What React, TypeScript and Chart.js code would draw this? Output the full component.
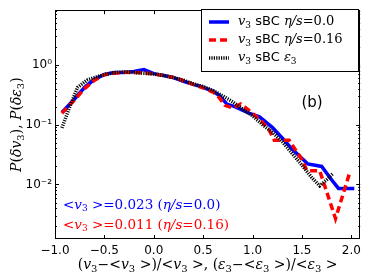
import React, { useEffect, useRef } from "react";
import { Chart, registerables } from "chart.js";

Chart.register(...registerables);

const xBlue = [-0.93, -0.8, -0.7, -0.6, -0.5, -0.4, -0.3, -0.2, -0.1, 0.0, 0.1, 0.2, 0.3, 0.4, 0.5, 0.6, 0.66, 0.74, 0.82, 0.97, 1.07, 1.2, 1.3, 1.4, 1.56, 1.7, 1.8, 1.87, 2.03];
const blueVals = [0.16, 0.27, 0.42, 0.57, 0.69, 0.74, 0.74, 0.77, 0.83, 0.71, 0.66, 0.61, 0.53, 0.47, 0.42, 0.36, 0.31, 0.22, 0.2, 0.154, 0.135, 0.09, 0.06, 0.039, 0.022, 0.02, 0.012, 0.0086, 0.0086];

const xRed = [-0.93, -0.8, -0.7, -0.6, -0.5, -0.4, -0.3, -0.2, -0.1, 0.0, 0.1, 0.2, 0.3, 0.4, 0.5, 0.6, 0.65, 0.72, 0.8, 0.88, 0.97, 1.1, 1.17, 1.22, 1.37, 1.5, 1.55, 1.68, 1.84, 1.98];
const redVals = [0.155, 0.26, 0.4, 0.55, 0.68, 0.72, 0.75, 0.74, 0.73, 0.7, 0.66, 0.61, 0.54, 0.47, 0.41, 0.35, 0.3, 0.21, 0.19, 0.22, 0.17, 0.11, 0.08, 0.055, 0.055, 0.026, 0.017, 0.017, 0.0027, 0.015];

const xBlack = [-0.93, -0.85, -0.77, -0.67, -0.55, -0.42, -0.3, -0.2, -0.1, 0.0, 0.1, 0.2, 0.3, 0.4, 0.5, 0.6, 0.7, 0.8, 0.9, 1.0, 1.1, 1.2, 1.3, 1.4, 1.5, 1.6, 1.68, 1.75, 1.81];
const blackVals = [0.088, 0.2, 0.42, 0.56, 0.65, 0.73, 0.76, 0.74, 0.72, 0.7, 0.66, 0.61, 0.55, 0.48, 0.43, 0.37, 0.3, 0.24, 0.18, 0.14, 0.1, 0.075, 0.052, 0.033, 0.021, 0.013, 0.0095, 0.012, 0.015];

const xTicks = [-1.0, -0.5, 0.0, 0.5, 1.0, 1.5, 2.0];
const yTicks = [0.01, 0.1, 1];
const yTickLabels = ["10\u207B\u00B2", "10\u207B\u00B9", "10\u2070"];

const SERIF = '"DejaVu Serif"';
const SANS = '"DejaVu Sans"';

type Run = { t: string; f: string; dy?: number };

function runsWidth(ctx: CanvasRenderingContext2D, runs: Run[]) {
  let w = 0;
  for (const r of runs) {
    ctx.font = r.f;
    w += ctx.measureText(r.t).width;
  }
  return w;
}

function drawRuns(ctx: CanvasRenderingContext2D, runs: Run[], x: number, y: number, align: "left" | "center") {
  const w = runsWidth(ctx, runs);
  let cx = align === "center" ? x - w / 2 : x;
  ctx.textAlign = "left";
  for (const r of runs) {
    ctx.font = r.f;
    ctx.fillText(r.t, cx, y + (r.dy || 0));
    cx += ctx.measureText(r.t).width;
  }
}

function mathRuns(size: number) {
  const it = `italic ${size}px ${SERIF}`;
  const rm = `${size}px ${SERIF}`;
  const sub = `${Math.round(size * 0.7)}px ${SERIF}`;
  const d = size * 0.28;
  return { it, rm, sub, d };
}

const overlayPlugin = {
  id: "overlay",
  afterDatasetsDraw(chart: any) {
    const ctx: CanvasRenderingContext2D = chart.ctx;
    const { left, right, top, bottom } = chart.chartArea;
    const xs = chart.scales.x;
    const ys = chart.scales.y;
    ctx.save();
    // frame
    ctx.strokeStyle = "#000";
    ctx.lineWidth = 1;
    ctx.strokeRect(Math.round(left) + 0.5, Math.round(top) + 0.5, Math.round(right - left) - 1, Math.round(bottom - top) - 1);
    // x ticks
    ctx.beginPath();
    for (const v of xTicks) {
      const px = Math.round(xs.getPixelForValue(v)) + 0.5;
      ctx.moveTo(px, bottom);
      ctx.lineTo(px, bottom - 4);
      ctx.moveTo(px, top);
      ctx.lineTo(px, top + 4);
    }
    // y ticks (log major/minor)
    for (let k = -3; k <= 0; k++) {
      for (let m = 1; m <= 9; m++) {
        const v = m * Math.pow(10, k);
        if (v < ys.min || v > ys.max) continue;
        const py = Math.round(ys.getPixelForValue(v)) + 0.5;
        const len = m === 1 ? 4 : 2;
        ctx.moveTo(left, py);
        ctx.lineTo(left + len, py);
        ctx.moveTo(right, py);
        ctx.lineTo(right - len, py);
      }
    }
    ctx.stroke();

    // legend
    const lx = 201.5, ly = 9.5, lw = 157, lh = 62;
    ctx.fillStyle = "#fff";
    ctx.fillRect(lx, ly, lw, lh);
    ctx.strokeStyle = "#000";
    ctx.strokeRect(lx, ly, lw, lh);
    const rows = [
      { c: "#0000ff", dash: [] as number[], val: "0.0", y: 22, eta: true },
      { c: "#ff0000", dash: [7, 4], val: "0.16", y: 40, eta: true },
      { c: "#000000", dash: [1.2, 1.2], val: "", y: 58, eta: false },
    ];
    const m = mathRuns(13);
    for (const r of rows) {
      ctx.strokeStyle = r.c;
      ctx.lineWidth = 3.5;
      ctx.setLineDash(r.dash);
      ctx.beginPath();
      ctx.moveTo(209, r.y);
      ctx.lineTo(229, r.y);
      ctx.stroke();
      ctx.setLineDash([]);
      ctx.fillStyle = "#000";
      ctx.textBaseline = "middle";
      const runs: Run[] = [
        { t: "v", f: m.it },
        { t: "3", f: m.sub, dy: m.d },
        { t: " sBC ", f: `13px ${SANS}` },
      ];
      if (r.eta) {
        runs.push({ t: "\u03B7/s", f: m.it });
        runs.push({ t: "=" + r.val, f: m.rm });
      } else {
        runs.push({ t: "\u03B5", f: m.it });
        runs.push({ t: "3", f: m.sub, dy: m.d });
      }
      drawRuns(ctx, runs, 238, r.y, "left");
    }

    // (b)
    ctx.fillStyle = "#000";
    ctx.font = `15px ${SANS}`;
    ctx.textAlign = "center";
    ctx.textBaseline = "middle";
    ctx.fillText("(b)", 312, 103);

    // annotations
    const a = mathRuns(13.5);
    const ann = [
      { c: "#0000ff", val: "0.023", eta: "0.0", y: 205 },
      { c: "#ff0000", val: "0.011", eta: "0.16", y: 225 },
    ];
    for (const r of ann) {
      ctx.fillStyle = r.c;
      ctx.textBaseline = "middle";
      drawRuns(
        ctx,
        [
          { t: "<", f: a.rm },
          { t: "v", f: a.it },
          { t: "3", f: a.sub, dy: a.d },
          { t: " >=" + r.val + " (", f: a.rm },
          { t: "\u03B7/s", f: a.it },
          { t: "=" + r.eta + ")", f: a.rm },
        ],
        63,
        r.y,
        "left"
      );
    }

    // axis titles
    const t = mathRuns(14);
    ctx.fillStyle = "#000";
    ctx.textBaseline = "middle";
    drawRuns(
      ctx,
      [
        { t: "(", f: t.rm },
        { t: "v", f: t.it },
        { t: "3", f: t.sub, dy: t.d },
        { t: "\u2212<", f: t.rm },
        { t: "v", f: t.it },
        { t: "3", f: t.sub, dy: t.d },
        { t: " >)/<", f: t.rm },
        { t: "v", f: t.it },
        { t: "3", f: t.sub, dy: t.d },
        { t: " >, (", f: t.rm },
        { t: "\u03B5", f: t.it },
        { t: "3", f: t.sub, dy: t.d },
        { t: "\u2212<", f: t.rm },
        { t: "\u03B5", f: t.it },
        { t: "3", f: t.sub, dy: t.d },
        { t: " >)/<", f: t.rm },
        { t: "\u03B5", f: t.it },
        { t: "3", f: t.sub, dy: t.d },
        { t: " >", f: t.rm },
      ],
      (left + right) / 2,
      265,
      "center"
    );
    ctx.save();
    ctx.translate(17, (top + bottom) / 2);
    ctx.rotate(-Math.PI / 2);
    drawRuns(
      ctx,
      [
        { t: "P", f: t.it },
        { t: "(", f: t.rm },
        { t: "\u03B4v", f: t.it },
        { t: "3", f: t.sub, dy: t.d },
        { t: "), ", f: t.rm },
        { t: "P", f: t.it },
        { t: "(", f: t.rm },
        { t: "\u03B4\u03B5", f: t.it },
        { t: "3", f: t.sub, dy: t.d },
        { t: ")", f: t.rm },
      ],
      0,
      0,
      "center"
    );
    ctx.restore();
    ctx.restore();
  },
};

export default function App() {
  const ref = useRef<HTMLCanvasElement | null>(null);
  useEffect(() => {
    document.body.style.margin = "0";
    const canvas = ref.current!;
    const mk = (xsArr: number[], ysArr: number[]) => xsArr.map((x, i) => ({ x, y: ysArr[i] }));
    const chart = new Chart(canvas, {
      type: "line",
      data: {
        datasets: [
          { label: "blue", data: mk(xBlue, blueVals), borderColor: "#0000ff", borderWidth: 3.5, pointRadius: 0, tension: 0, order: 2 },
          { label: "red", data: mk(xRed, redVals), borderColor: "#ff0000", borderWidth: 3.5, borderDash: [7, 4], pointRadius: 0, tension: 0, order: 1 },
          { label: "black", data: mk(xBlack, blackVals), borderColor: "#000000", borderWidth: 3.5, borderDash: [1.2, 1.2], pointRadius: 0, tension: 0, order: 0 },
        ],
      },
      options: {
        responsive: false,
        animation: false,
        layout: { padding: { top: 4, right: 5, left: 0, bottom: 0 } },
        plugins: { legend: { display: false }, tooltip: { enabled: false } },
        scales: {
          x: {
            type: "linear",
            min: -1.0,
            max: 2.09,
            grid: { display: false, drawTicks: false },
            border: { display: false },
            afterBuildTicks: (s: any) => {
              s.ticks = xTicks.map((v) => ({ value: v }));
            },
            afterFit: (s: any) => {
              s.height = 39;
            },
            ticks: {
              padding: 5,
              maxRotation: 0,
              autoSkip: false,
              color: "#000",
              font: { family: "DejaVu Sans", size: 12 },
              callback: (v: any) => Number(v).toFixed(1).replace("-", "\u2212"),
            },
          },
          y: {
            type: "logarithmic",
            min: 0.00123,
            max: 8.13,
            grid: { display: false, drawTicks: false },
            border: { display: false },
            afterBuildTicks: (s: any) => {
              s.ticks = yTicks.map((v) => ({ value: v }));
            },
            afterFit: (s: any) => {
              s.width = 55;
            },
            ticks: {
              padding: 3,
              autoSkip: false,
              color: "#000",
              font: { family: "DejaVu Sans", size: 12 },
              callback: (v: any) => {
                const i = yTicks.findIndex((t) => Math.abs(t - Number(v)) < 1e-9);
                return i >= 0 ? yTickLabels[i] : "";
              },
            },
          },
        },
      },
      plugins: [overlayPlugin],
    });
    return () => chart.destroy();
  }, []);
  return <canvas ref={ref} width={366} height={278} style={{ display: "block" }} />;
}
